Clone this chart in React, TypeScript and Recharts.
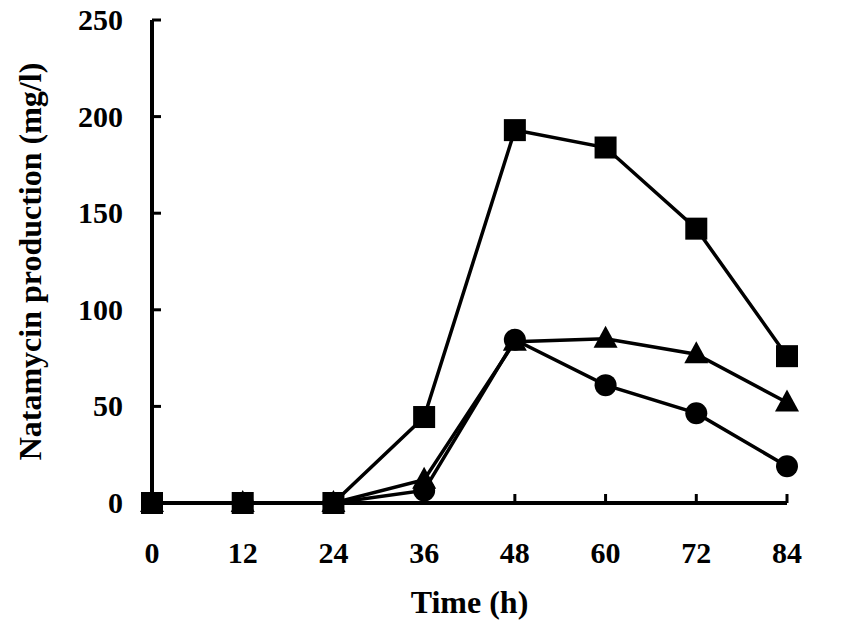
import { LineChart, Line, XAxis, YAxis, Label } from 'recharts'

const hours = [0, 12, 24, 36, 48, 60, 72, 84]
const squareSeries = [0, 0, 0, 44.5, 193, 184, 142, 76]
const triangleSeries = [0, 0, 0, 12, 83.5, 85, 77, 52]
const circleSeries = [0, 0, 0, 6.5, 84.5, 61, 46.5, 19]
const xTicks = [0, 12, 24, 36, 48, 60, 72, 84]
const yTicks = [0, 50, 100, 150, 200, 250]

const FONT = '"Liberation Serif", "Times New Roman", serif'

const data = hours.map((h, i) => ({
  h,
  sq: squareSeries[i],
  tri: triangleSeries[i],
  circ: circleSeries[i],
}))

function XTick({ x, y, payload }: any) {
  return (
    <g>
      <line x1={x} y1={y} x2={x} y2={y - 9} stroke="#000" strokeWidth={3} />
      <text x={x} y={y + 60} textAnchor="middle" fontFamily={FONT} fontWeight="bold" fontSize={30} fill="#000">
        {payload.value}
      </text>
    </g>
  )
}

function YTick({ x, y, payload }: any) {
  return (
    <g>
      <line x1={x} y1={y} x2={x + 9} y2={y} stroke="#000" strokeWidth={3} />
      <text x={x - 29} y={y + 10} textAnchor="end" fontFamily={FONT} fontWeight="bold" fontSize={30} fill="#000">
        {payload.value}
      </text>
    </g>
  )
}

function Square(p: any) {
  if (p.cx == null || p.cy == null) return <g key={p.key} />
  return <rect key={p.key} x={p.cx - 11} y={p.cy - 11} width={22} height={22} fill="#000" />
}

function Triangle(p: any) {
  if (p.cx == null || p.cy == null) return <g key={p.key} />
  const { cx, cy } = p
  return <polygon key={p.key} points={`${cx},${cy - 13} ${cx + 12},${cy + 9} ${cx - 12},${cy + 9}`} fill="#000" />
}

function Circle(p: any) {
  if (p.cx == null || p.cy == null) return <g key={p.key} />
  return <circle key={p.key} cx={p.cx} cy={p.cy} r={11} fill="#000" />
}

export default function App() {
  return (
    <div style={{ position: 'absolute', left: 0, top: 0, background: '#fff' }}>
      <LineChart width={842} height={629} data={data} margin={{ top: 20, right: 55, left: 0, bottom: 0 }}>
        <XAxis
          dataKey="h"
          type="number"
          domain={[0, 84]}
          ticks={xTicks}
          height={126}
          tickSize={0}
          tickMargin={0}
          tickLine={false}
          tick={<XTick />}
          axisLine={{ stroke: '#000', strokeWidth: 4 }}
        >
          <Label
            value="Time (h)"
            position="insideBottom"
            offset={16}
            style={{ fontFamily: FONT, fontWeight: 'bold', fontSize: 32, fill: '#000' }}
          />
        </XAxis>
        <XAxis
          xAxisId="top"
          orientation="top"
          dataKey="h"
          type="number"
          domain={[0, 84]}
          height={0}
          tick={false}
          tickLine={false}
          axisLine={{ stroke: '#000', strokeWidth: 4 }}
        />
        <YAxis
          domain={[0, 250]}
          ticks={yTicks}
          width={152}
          tickSize={0}
          tickMargin={0}
          tickLine={false}
          tick={<YTick />}
          axisLine={{ stroke: '#000', strokeWidth: 4 }}
          label={{
            content: ({ viewBox }: any) => {
              const cx = viewBox.x + 30
              const cy = viewBox.y + viewBox.height / 2
              return (
                <text
                  x={cx}
                  y={cy}
                  transform={`rotate(-90, ${cx}, ${cy})`}
                  textAnchor="middle"
                  dominantBaseline="central"
                  fontFamily={FONT}
                  fontWeight="bold"
                  fontSize={32}
                  fill="#000"
                >
                  Natamycin production (mg/l)
                </text>
              )
            },
          }}
        />
        <YAxis
          yAxisId="right"
          orientation="right"
          domain={[0, 250]}
          width={0}
          tick={false}
          tickLine={false}
          axisLine={{ stroke: '#000', strokeWidth: 4 }}
        />
        <Line dataKey="circ" stroke="#000" strokeWidth={3.5} dot={Circle} activeDot={false} isAnimationActive={false} />
        <Line dataKey="tri" stroke="#000" strokeWidth={3.5} dot={Triangle} activeDot={false} isAnimationActive={false} />
        <Line dataKey="sq" stroke="#000" strokeWidth={3.5} dot={Square} activeDot={false} isAnimationActive={false} />
      </LineChart>
    </div>
  )
}
